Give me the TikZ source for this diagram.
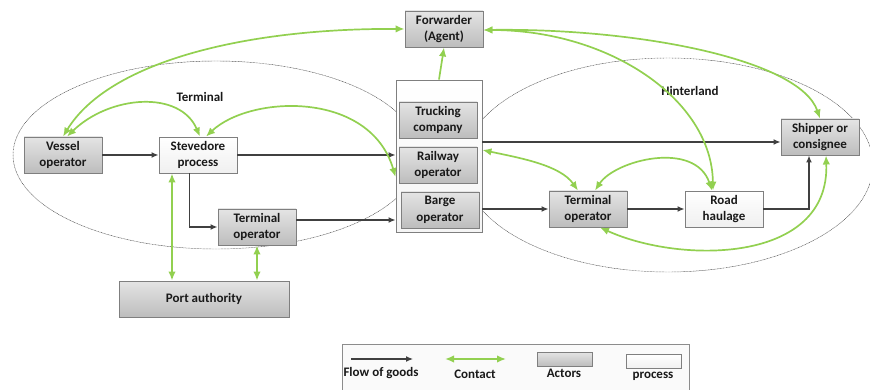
\documentclass[tikz,border=0pt]{standalone}
\usepackage{fontspec}
\setmainfont{Carlito}
\usetikzlibrary{arrows.meta,shadows}
\definecolor{contact}{HTML}{92D050}
\definecolor{flow}{HTML}{404040}
\definecolor{boxline}{HTML}{7F7F7F}
\definecolor{actorlight}{HTML}{E4E4E4}
\definecolor{actordark}{HTML}{BDBDBD}

\begin{document}
\begin{tikzpicture}[x=1pt,y=-1pt,
  every node/.style={font=\fontsize{13}{16.5}\selectfont\bfseries, align=center, inner sep=0pt, text=black!90},
  softshadow/.style={drop shadow={shadow xshift=1.3pt, shadow yshift=-1.3pt, opacity=0.22}},
  actor/.style={draw=boxline, line width=0.9pt, top color=actorlight, bottom color=actordark,
    minimum width=78pt, minimum height=36pt, softshadow},
  proc/.style={actor, top color=white, bottom color=black!6},
  region/.style={draw=black!70, line width=0.45pt, dash pattern=on 0.9pt off 0.6pt},
  goods/.style={draw=flow, line width=1.4pt, -{Latex[length=7pt,width=6pt]}},
  talk/.style={draw=contact, line width=1.7pt, {Latex[length=9pt,width=7.5pt]}-{Latex[length=9pt,width=7.5pt]}},
  talkone/.style={draw=contact, line width=1.7pt, -{Latex[length=9pt,width=7.5pt]}},
  label/.style={font=\fontsize{13}{16.5}\selectfont\bfseries}
]
\useasboundingbox (0,0) rectangle (870,390);

% terminal and hinterland regions
\draw[region] (216,155) ellipse [x radius=203, y radius=94];
\draw[region] (668,165) ellipse [x radius=205, y radius=107];
\node[label] (terminal) at (200,97) {Terminal};
\node[label] (hinterland) at (690,91) {Hinterland};

% actors and processes
\node[actor] (fwd) at (444,29) {Forwarder\\(Agent)};
\node[draw=boxline, line width=0.9pt, top color=white, bottom color=black!4,
      minimum width=86pt, minimum height=152pt, softshadow] (carriers) at (439,156) {};
\node[actor] (truck) at (438,120) {Trucking\\company};
\node[actor] (rail) at (438,165) {Railway\\operator};
\node[actor] (barge) at (440,210) {Barge\\operator};
\node[actor] (vessel) at (63,155) {Vessel\\operator};
\node[proc] (stev) at (198,155) {Stevedore\\process};
\node[actor] (termL) at (257,227) {Terminal\\operator};
\node[actor, minimum width=170pt] (port) at (204,299) {Port authority};
\node[actor] (termR) at (588,209) {Terminal\\operator};
\node[proc] (road) at (724,209) {Road\\haulage};
\node[actor] (ship) at (820,137) {Shipper or\\consignee};

% flow of goods
\draw[goods] (vessel.east) -- (stev.west);
\draw[goods] (stev.east) -- (stev.east -| carriers.west);
\draw[goods] ([xshift=-8.5pt]stev.south) |- (termL.west);
\draw[goods] ([yshift=7pt]termL.east) -- ([yshift=7pt]termL.east -| carriers.west);
\draw[goods] ([yshift=-5pt]ship.west -| carriers.east) -- ([yshift=-5pt]ship.west);
\draw[goods] (termR.west -| carriers.east) -- (termR.west);
\draw[goods] (termR.east) -- (road.west);
\draw[goods] (road.east) -| ([xshift=-11pt]ship.south);

% contacts
\coordinate (fwdE) at ([yshift=-1pt]fwd.east);
\draw[talk] (fwd.west) .. controls (250,28) and (110,60) .. (vessel.north);
\draw[talk] ([xshift=4pt]vessel.north) .. controls (110,95) and (180,90) .. ([xshift=2pt]stev.north);
\draw[talk] ([xshift=8pt]stev.north) .. controls (250,95) and (370,90) .. ([yshift=-21pt]carriers.west);
\draw[talkone] (carriers.north) -- (fwd.south);
\draw[talk] (fwdE) .. controls (640,28) and (800,60) .. (ship.north);
\draw[talk] (fwdE) .. controls (610,30) and (712,100) .. ([xshift=-11pt]road.north);
\draw[talk] ([yshift=6pt]carriers.east) .. controls (520,158) and (560,165) .. ([xshift=-10pt]termR.north);
\draw[talk] ([xshift=7pt]termR.north) .. controls (615,160) and (695,140) .. ([xshift=-12pt]road.north);
\draw[talk] ([xshift=12pt]termR.south) .. controls (680,264) and (830,264) .. ([xshift=6pt]ship.south);
\draw[talk] ([xshift=-26pt]stev.south) -- ([xshift=-26pt]stev.south |- port.north);
\draw[talk] (termL.south) -- (termL.south |- port.north);

% legend
\node[draw=black!45, line width=0.9pt, fill=black!2, minimum width=347pt, minimum height=50pt,
      anchor=north west] (legend) at (342,344) {};
\coordinate (flowA) at (351,359);
\coordinate (flowB) at (413,359);
\draw[goods, line width=1.2pt] (flowA) -- (flowB);
\node (flowtxt) at (381,373) {Flow of goods};
\coordinate (talkA) at (445,359);
\coordinate (talkB) at (506,359);
\draw[talk] (talkA) -- (talkB);
\node (talktxt) at (475,374) {Contact};
\node[actor, minimum width=55pt, minimum height=14pt, softshadow] (actorkey) at (564.5,359) {};
\node (actortxt) at (564,373) {Actors};
\node[proc, minimum width=55pt, minimum height=14pt] (prockey) at (653.5,361) {};
\node (proctxt) at (653,376) {process};
\end{tikzpicture}
\end{document}
